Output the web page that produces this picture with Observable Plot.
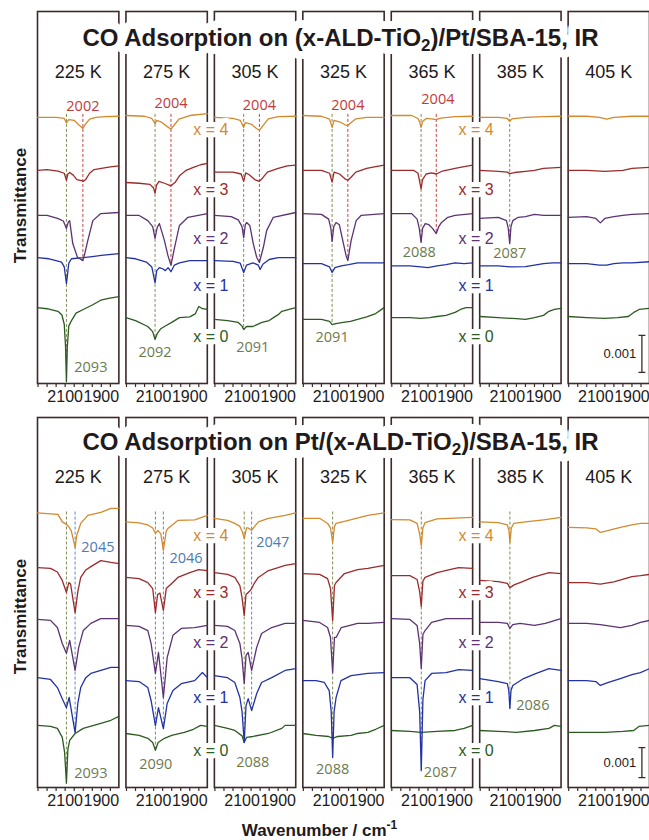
<!DOCTYPE html>
<html><head><meta charset="utf-8">
<script src="https://cdn.jsdelivr.net/npm/d3@7"></script>
<script src="https://cdn.jsdelivr.net/npm/@observablehq/plot@0.6"></script>
<style>
body{margin:0;background:#fff;width:649px;height:840px;overflow:hidden}
#chart svg{display:block}
</style></head><body><div id="chart"></div>
<script>
// ---------- data ----------
const temps = ["225 K","275 K","305 K","325 K","365 K","385 K","405 K"];
const loadingLabels = ["x = 0","x = 1","x = 2","x = 3","x = 4"];
const traceColors = ["#2d5a22","#2232a4","#5b3272","#9c2a2b","#d38a2d"];
const xTicks = [2250,2200,2150,2100,2050,2000,1950,1900,1850];
const xTickLabels = [2100,1900];
const topTitle = "CO Adsorption on (x-ALD-TiO₂)/Pt/SBA-15, IR";
const bottomTitle = "CO Adsorption on Pt/(x-ALD-TiO₂)/SBA-15, IR";
// vertical offsets of the stacked traces (x = 0..4), units of 1e-4 transmittance
const topOffsets = [20, 34, 45.4, 57.6, 71.9];
const bottomOffsets = [20.7, 37.3, 56, 73.3, 91.5];
const topLabelY = [12.6, 26.5, 39, 52.4, 68.5];
const bottomLabelY = [12.3, 30, 48.2, 65, 84];

// spectra: [wavenumber, ΔT (1e-4)] per loading x = 0..4
const top225 = [
 [[2253,0.5],[2200,0.2],[2140,-0.5],[2118,-1.5],[2105,-4],[2098,-10],[2093,-19.5],[2088,-10],[2080,-4.5],[2065,-3],[2040,-1],[2000,0],[1950,1.2],[1903,2.5],[1860,3],[1803,3.5]],
 [[2253,0],[2190,-0.3],[2150,-0.8],[2120,-1.2],[2105,-2.5],[2097,-5.5],[2093,-7],[2088,-5],[2080,-1.5],[2065,-0.3],[2000,0],[1950,0.3],[1900,0.6],[1803,1.1]],
 [[2253,0],[2200,0],[2142,-0.8],[2110,-1.5],[2093,-3.5],[2083,-1.8],[2075,-1.4],[2058,-7.6],[2032,-11.3],[2002,-12.2],[1990,-10],[1975,-6.8],[1947,-1.4],[1903,0.5],[1803,0.8]],
 [[2253,0],[2200,0.2],[2140,-0.2],[2105,-0.8],[2093,-2.7],[2085,-1],[2075,-0.6],[2055,-1.3],[2035,-2.5],[2010,-2.8],[2000,-3.0],[1985,-2.4],[1965,-0.8],[1940,0.2],[1900,0.5],[1850,0.9],[1803,1.2]],
 [[2253,0],[2150,0],[2105,-0.3],[2093,-1.5],[2080,-0.6],[2050,-0.8],[2025,-2],[2002,-3],[1990,-2],[1965,-0.5],[1930,0],[1880,0.2],[1803,0.3]]
];
const top275 = [
 [[2253,-2.2],[2200,-3],[2132,-4.6],[2105,-6],[2092,-8.1],[2080,-6.5],[2060,-5.2],[2040,-4.6],[2000,-3.5],[1957,-2.2],[1900,-2],[1870,-1.2],[1850,0.8],[1830,0.2],[1803,0]],
 [[2253,0],[2200,-0.3],[2140,-1.2],[2110,-2.5],[2092,-6.8],[2083,-3.5],[2068,-2.7],[2050,-3],[2035,-3.5],[2020,-2.7],[2004,-3.8],[1985,-2],[1957,-1.4],[1900,-0.8],[1803,-0.8]],
 [[2253,0],[2180,0],[2132,-1.4],[2105,-3],[2092,-6.2],[2080,-3.2],[2068,-2.2],[2040,-6.8],[2021,-10.8],[2004,-13.5],[1984,-8.6],[1957,-2.7],[1910,-0.5],[1803,0.5]],
 [[2253,-3.3],[2180,-3.5],[2120,-3.8],[2100,-4.8],[2092,-6.2],[2084,-4],[2070,-3],[2040,-3.5],[2004,-4.2],[1980,-3.2],[1955,-1.4],[1920,0],[1880,0.8],[1840,1.5],[1803,1.9]],
 [[2253,0.5],[2150,0.3],[2110,-0.3],[2092,-1.7],[2082,-0.8],[2060,-1.2],[2030,-2.3],[2004,-3.2],[1985,-2],[1960,-0.5],[1900,0.5],[1803,1]]
];
const top305 = [
 [[2253,-2.7],[2180,-3],[2121,-3.5],[2100,-4.5],[2091,-5.4],[2075,-4.6],[2040,-4.6],[1990,-3.5],[1950,-3],[1920,-2],[1900,-1.4],[1880,-0.5],[1840,0],[1803,0.5]],
 [[2253,-0.8],[2150,-1],[2110,-1.5],[2091,-4],[2075,-2],[2040,-1.4],[2010,-2],[2000,-3.2],[1985,-1.8],[1950,-0.5],[1900,0],[1803,0]],
 [[2253,0],[2160,-0.3],[2121,-1.2],[2100,-3],[2091,-6],[2082,-2.5],[2075,-1.9],[2057,-2.7],[2038,-7.6],[2019,-11.3],[2004,-12.7],[1982,-8.6],[1964,-4.1],[1927,-0.5],[1803,0.8]],
 [[2253,-0.5],[2150,-0.5],[2105,-1],[2091,-3],[2080,-0.7],[2060,-1.2],[2030,-2.5],[2004,-3],[1985,-2],[1960,-0.5],[1900,0.5],[1850,1.2],[1803,1.4]],
 [[2253,0],[2150,-0.3],[2110,-0.8],[2091,-2.7],[2082,-1.4],[2050,-1.8],[2020,-3],[2004,-3.5],[1985,-2.3],[1955,-0.4],[1900,0.2],[1803,0.3]]
];
const top325 = [
 [[2253,-2.7],[2150,-2.7],[2105,-3.2],[2091,-4.1],[2070,-3.8],[2030,-3.5],[1990,-3.2],[1950,-2.7],[1900,-2],[1850,-1.1],[1803,0.5]],
 [[2253,-1.6],[2150,-1.6],[2105,-2.5],[2091,-4],[2075,-2.7],[2040,-2.2],[2000,-1.9],[1950,-1.4],[1900,-1.4],[1803,-1.4]],
 [[2253,0.5],[2150,0.3],[2110,-1],[2098,-3.5],[2091,-7],[2082,-3],[2069,-1.9],[2051,-2.5],[2032,-6.8],[2014,-10.8],[2004,-12.2],[1986,-6.8],[1958,-1.4],[1931,0],[1803,0.5]],
 [[2253,0],[2150,0],[2105,-0.8],[2091,-3.2],[2080,-0.5],[2050,-1],[2020,-2.3],[2004,-2.7],[1985,-1.8],[1960,-0.5],[1900,0.5],[1850,1],[1803,1.4]],
 [[2253,0.5],[2150,0.3],[2105,-0.5],[2091,-2.7],[2080,-0.8],[2050,-1.2],[2020,-2],[2004,-2.2],[1985,-1.4],[1960,-0.4],[1900,0],[1803,0]]
];
const top365 = [
 [[2253,-2.2],[2150,-2.2],[2090,-2.4],[2040,-2.2],[2000,-1.9],[1950,-1.6],[1900,-0.8],[1870,0],[1840,0.5],[1803,0.5]],
 [[2253,-2.2],[2150,-2.2],[2090,-2.5],[2050,-2.7],[2000,-2.2],[1950,-1.9],[1900,-1.4],[1850,-1.6],[1803,-1.4]],
 [[2253,0.5],[2140,0.5],[2110,-1],[2098,-3.5],[2088,-7.3],[2080,-3.5],[2065,-2.2],[2045,-2.5],[2025,-3.5],[2004,-4.9],[1990,-3],[1975,-1.9],[1940,-0.5],[1900,0],[1803,0.5]],
 [[2253,0],[2130,0],[2105,-0.8],[2088,-5],[2080,-2.5],[2060,-1],[2030,-0.7],[2004,-1],[1970,-0.2],[1900,0.5],[1850,1],[1803,1.4]],
 [[2253,0.5],[2140,0.5],[2105,-0.3],[2095,-1.4],[2088,-2.7],[2080,-1.1],[2060,-0.3],[2030,-0.4],[2004,-0.6],[1980,-0.2],[1900,0.2],[1803,0.3]]
];
const top385 = [
 [[2253,-1.9],[2150,-2.2],[2050,-2.5],[2000,-2.7],[1950,-2.2],[1900,-1.6],[1870,-0.5],[1840,0],[1803,0.3]],
 [[2253,-2.2],[2150,-2.2],[2080,-2.5],[2000,-2.4],[1950,-2],[1900,-1.6],[1850,-1.4],[1803,-1.4]],
 [[2253,-0.8],[2150,-0.5],[2105,-1.4],[2095,-3.5],[2087,-7.6],[2080,-3],[2070,-1.4],[2040,-0.5],[2000,-0.3],[1950,0.3],[1900,0],[1803,0]],
 [[2253,0],[2150,-0.3],[2100,-0.5],[2087,-0.9],[2060,-0.6],[2000,-0.3],[1950,0],[1900,0.5],[1803,0.8]],
 [[2253,0],[2150,0],[2100,-0.3],[2087,-1.1],[2075,-0.4],[2000,0],[1900,0.2],[1803,0.3]]
];
const top405 = [
 [[2253,-1.9],[2150,-2.2],[2050,-2.4],[1980,-2.2],[1920,-1.9],[1890,-0.8],[1860,0],[1803,0.3]],
 [[2253,-1.6],[2150,-1.6],[2080,-2],[2040,-2],[2000,-1.6],[1950,-1.4],[1900,-1.4],[1803,-1.1]],
 [[2253,-0.5],[2150,-0.3],[2100,-0.8],[2075,-2],[2050,-0.8],[2000,-0.3],[1950,0],[1900,0.3],[1803,0.5]],
 [[2253,0],[2150,0],[2050,-0.3],[1950,0],[1900,0.5],[1803,0.8]],
 [[2253,0.3],[2150,0.3],[2080,0],[2040,-0.5],[2000,0],[1900,0.3],[1803,0.3]]
];

const bot225 = [
 [[2253,0],[2181,-0.3],[2143,-1],[2116,-4],[2103,-9],[2093,-19.3],[2085,-8],[2075,-5],[2045,-2.7],[2000,-1],[1903,0.7],[1847,1.7],[1803,3]],
 [[2253,-0.7],[2181,-1.3],[2143,-4],[2116,-7.7],[2093,-10.7],[2078,-7.3],[2045,-19],[2030,-9.3],[2014,-4],[1986,-0.7],[1958,0.7],[1903,1.7],[1847,2.7],[1803,2.7]],
 [[2253,0],[2181,-0.3],[2143,-2.7],[2116,-8],[2093,-11.3],[2075,-7],[2045,-17],[2025,-9.3],[2000,-3.7],[1958,-1.3],[1903,0.3],[1803,0.3]],
 [[2253,0],[2181,-0.3],[2143,-1.5],[2116,-4.3],[2093,-8.3],[2080,-5],[2070,-5.5],[2045,-15],[2030,-8],[2014,-3.3],[1986,-0.8],[1958,0.3],[1903,2.3],[1847,1.7],[1803,1.3]],
 [[2253,0],[2181,-0.3],[2140,-0.5],[2116,-3],[2093,-3.8],[2079,-4.7],[2066,-6],[2045,-11.5],[2036,-7.5],[2014,-3.5],[1975,-0.8],[1903,0.2],[1847,1.5],[1803,1.5]]
];
const bot275 = [
 [[2253,-2.7],[2180,-3.3],[2132,-4.3],[2105,-5.7],[2090,-8.3],[2075,-5.7],[2040,-4.3],[2000,-3.3],[1930,-2.3],[1880,-1.3],[1840,0],[1803,-0.3]],
 [[2253,-1.7],[2180,-2],[2132,-4],[2114,-8.3],[2090,-16.7],[2073,-10.7],[2046,-17.7],[2025,-9.3],[1993,-5],[1947,-2.7],[1873,-1.7],[1830,1],[1803,-0.7]],
 [[2253,-2],[2180,-2.3],[2132,-3.7],[2114,-8],[2090,-18],[2073,-11],[2046,-26],[2025,-12.7],[1993,-5.3],[1947,-3],[1873,-2.7],[1803,-2]],
 [[2253,-3.3],[2180,-3.7],[2132,-5],[2105,-7],[2090,-15],[2078,-9],[2065,-8.5],[2046,-14.3],[2030,-7],[2000,-5.3],[1966,-3.3],[1900,-1.7],[1850,-0.7],[1803,-1]],
 [[2253,-3],[2180,-3.3],[2132,-4],[2105,-5],[2090,-6.8],[2077,-5.8],[2060,-7],[2046,-12.5],[2030,-6],[2021,-5.2],[1966,-2.5],[1873,-2.3],[1803,-0.8]]
];
const bot305 = [
 [[2253,0],[2180,-1],[2140,-1.7],[2100,-3.5],[2088,-5.7],[2075,-4],[2040,-3.7],[1954,-2.7],[1880,-1],[1862,0],[1803,0]],
 [[2253,0],[2180,-0.7],[2140,-2.3],[2112,-7.3],[2100,-12],[2088,-22.3],[2078,-10],[2066,-7.7],[2047,-11.7],[2019,-6],[1992,-2.3],[1936,-0.7],[1862,1.7],[1803,2.3]],
 [[2253,-2],[2180,-2.3],[2140,-3.7],[2112,-8],[2100,-13],[2088,-21.3],[2078,-12],[2066,-11],[2047,-17],[2019,-9.3],[1992,-4.7],[1936,-2.7],[1862,-1.3],[1803,-1.3]],
 [[2253,-1.7],[2180,-2.3],[2140,-3.3],[2112,-6],[2100,-10],[2088,-16],[2078,-9],[2060,-8],[2047,-7],[2030,-5],[2010,-3.3],[1954,-1],[1900,0],[1862,0.7],[1803,1.3]],
 [[2253,-1.8],[2180,-2.5],[2140,-3.5],[2112,-4.5],[2100,-6],[2088,-8.5],[2075,-5],[2066,-5],[2047,-5.8],[2030,-4.5],[2010,-3],[1954,-1.8],[1862,-0.8],[1803,0]]
];
const bot325 = [
 [[2253,-2.7],[2180,-3.3],[2110,-3.7],[2088,-4.3],[2060,-3.7],[1986,-3.3],[1950,-2.7],[1893,-2.3],[1850,-1.3],[1803,0]],
 [[2253,-1.7],[2180,-1.7],[2134,-2.3],[2107,-5],[2096,-12],[2088,-27.3],[2080,-12],[2069,-7.3],[2042,-1.7],[1986,0],[1893,0.7],[1803,1]],
 [[2253,-0.3],[2160,-1],[2116,-2.7],[2100,-6],[2088,-17.7],[2078,-6],[2069,-6],[2040,-2.7],[1950,-1.3],[1893,-1.3],[1803,-1]],
 [[2253,-2],[2160,-2.3],[2116,-3.7],[2100,-7],[2088,-17.7],[2078,-6],[2069,-5],[2023,-2],[1950,-0.7],[1893,-0.3],[1803,0.7]],
 [[2253,-1.8],[2160,-1.8],[2116,-3.5],[2100,-5],[2088,-9.8],[2078,-4.5],[2069,-3.5],[2023,-2.8],[1893,-0.8],[1803,0]]
];
const bot365 = [
 [[2253,-1.7],[2150,-2],[2087,-2.3],[2000,-2],[1900,-1.7],[1850,-1],[1803,0]],
 [[2253,-0.7],[2150,-0.7],[2110,-3],[2096,-12],[2087,-31.7],[2078,-8],[2066,-1.7],[2030,0.7],[1950,1],[1880,2],[1803,1.7]],
 [[2253,0.3],[2150,0],[2110,-2],[2096,-8],[2087,-16.3],[2078,-5],[2066,-3.7],[2030,-1],[1950,0.3],[1803,0.3]],
 [[2253,-2.7],[2150,-2.7],[2110,-4],[2096,-8],[2087,-13],[2078,-4.5],[2066,-3.3],[2000,-1.7],[1930,-0.7],[1880,0],[1803,-0.3]],
 [[2253,-2.2],[2150,-2.3],[2110,-3.5],[2096,-7],[2087,-11],[2078,-5],[2066,-3.2],[2000,-2],[1900,-1.7],[1803,-1.5]]
];
const bot385 = [
 [[2253,-1.7],[2150,-2],[2050,-2.3],[1950,-1.7],[1870,-1],[1840,0],[1803,-0.3]],
 [[2253,-1],[2150,-2],[2100,-2.7],[2092,-5],[2086,-11],[2080,-5],[2070,-3.3],[2010,-1],[1940,0.7],[1870,2.3],[1803,1.7]],
 [[2253,-1],[2150,-1],[2100,-1.3],[2086,-3],[2070,-1.7],[2030,-1.3],[1950,-2],[1890,-1.3],[1803,0.3]],
 [[2253,-4.3],[2150,-4.7],[2100,-5.3],[2086,-6.7],[2060,-5.7],[2030,-5],[1960,-3.3],[1870,-1.7],[1803,-2]],
 [[2253,-3],[2150,-3.2],[2100,-4],[2091,-6],[2086,-9.8],[2078,-5],[2065,-3.5],[2000,-3],[1900,-2.3],[1803,-1.5]]
];
const bot405 = [
 [[2253,-2.3],[2150,-2.3],[2050,-2.3],[1950,-2],[1890,-1.7],[1860,-0.3],[1803,0]],
 [[2253,-1.7],[2150,-1.7],[2100,-2],[2075,-3.3],[2030,-2.3],[1964,-1],[1900,0.3],[1853,1],[1803,2.3]],
 [[2253,-1.3],[2150,-1.3],[2075,-1.7],[1964,-2.7],[1900,-2],[1853,-1],[1803,-0.3]],
 [[2253,-5],[2150,-5],[2075,-5.5],[2000,-4.8],[1900,-3],[1853,-2.7],[1803,-2.3]],
 [[2253,-4.8],[2150,-5],[2100,-5.3],[2075,-6.5],[2040,-6],[1964,-4.8],[1900,-4],[1853,-3.5],[1803,-3.5]]
];

// peak annotations: dashed line at wn, down to the trace x = to; label at (lwn, ly)
const topPeaks = [
 {T:"225 K", wn:2093, c:"green", to:0, label:"2093", lwn:1958, ly:4.3},
 {T:"225 K", wn:2002, c:"red",   to:2, label:"2002", lwn:2002, ly:74.9},
 {T:"275 K", wn:2092, c:"green", to:0, label:"2092", lwn:2092, ly:8.4},
 {T:"275 K", wn:2004, c:"red",   to:2, label:"2004", lwn:2004, ly:75.7},
 {T:"305 K", wn:2091, c:"green", to:0, label:"2091", lwn:2041, ly:9.7},
 {T:"305 K", wn:2004, c:"red",   to:2, label:"2004", lwn:2004, ly:75.1},
 {T:"325 K", wn:2091, c:"green", to:0, label:"2091", lwn:2091, ly:12.4},
 {T:"325 K", wn:2004, c:"red",   to:2, label:"2004", lwn:2004, ly:75.1},
 {T:"365 K", wn:2088, c:"green", to:2, label:"2088", lwn:2098, ly:35.4},
 {T:"365 K", wn:2004, c:"red",   to:2, label:"2004", lwn:1995, ly:76.8},
 {T:"385 K", wn:2087, c:"green", to:2, label:"2087", lwn:2087, ly:35.1}
];
const bottomPeaks = [
 {T:"225 K", wn:2093, c:"green", to:0, label:"2093", lwn:1958, ly:4.7},
 {T:"225 K", wn:2045, c:"blue",  to:1, label:"2045", lwn:1919, ly:80},
 {T:"275 K", wn:2090, c:"green", to:0, label:"2090", lwn:2088, ly:7.7},
 {T:"275 K", wn:2046, c:"blue",  to:1, label:"2046", lwn:1921, ly:76.3},
 {T:"305 K", wn:2088, c:"green", to:0, label:"2088", lwn:2041, ly:8.3},
 {T:"305 K", wn:2047, c:"blue",  to:1, label:"2047", lwn:1930, ly:81.7},
 {T:"325 K", wn:2088, c:"green", to:1, label:"2088", lwn:2088, ly:6},
 {T:"365 K", wn:2087, c:"green", to:1, label:"2087", lwn:1981, ly:5},
 {T:"385 K", wn:2086, c:"green", to:1, label:"2086", lwn:1959, ly:27.3}
];

// ---------- styling ----------
const FONT = "'Liberation Sans', Arial, Helvetica, sans-serif";
const LABELFONT = "'Open Sans', 'Noto Sans', sans-serif";
const INK = "#221a1a";
const FRAME = "#3d2a2a";
const peakLine = {green:"#7d8d52", red:"#cc3f3f", blue:"#5d88bd"};
const peakText = {green:"#6e7b4c", red:"#c23a3a", blue:"#4d7ab3"};

function interp(pts, wn) {
  for (let i = 1; i < pts.length; i++) {
    const [w0, v0] = pts[i-1], [w1, v1] = pts[i];
    if (wn <= w0 && wn >= w1) return v0 + (v1 - v0) * (wn - w0) / (w1 - w0);
  }
  return 0;
}

function drawPanel(cfg) {
  const rows = [];
  for (const T of temps) cfg.spectra[T].forEach((pts, k) =>
    pts.forEach(([wn, d]) => rows.push({T, key: T + k, wn, y: cfg.offsets[k] + d, color: traceColors[k]})));
  const peaks = cfg.peaks.map(p => ({...p,
    y1: cfg.offsets[4] + cfg.ruleTop,
    y2: cfg.offsets[p.to] + interp(cfg.spectra[p.T][p.to], p.wn)}));
  const labelRows = [];
  for (const T of ["275 K","365 K"]) loadingLabels.forEach((t, k) =>
    labelRows.push({T, t, y: cfg.labelY[k], color: traceColors[k]}));
  const bar = [{T:"405 K"}];
  const caps = [{T:"405 K", y: cfg.bar[0]}, {T:"405 K", y: cfg.bar[1]}];
  const titleRow = [{T:"325 K"}];
  const titleOpts = {fx: "T", text: () => cfg.title, frameAnchor: "top", lineAnchor: "middle", textAnchor: "middle",
      dy: cfg.titleDy, dx: -3, fontWeight: "bold", fontSize: 24};
  const marks = [
    Plot.frame({stroke: FRAME, strokeWidth: 1.6}),
    Plot.axisX({ticks: xTicks, tickSize: 4, tickFormat: () => "", label: null, stroke: FRAME, strokeWidth: 1.2}),
    Plot.axisX({ticks: xTickLabels, tickSize: 0, tickPadding: 7, label: null, fontSize: 16, fill: INK, tickFormat: d => String(d)}),
    Plot.ruleX(peaks, {fx: "T", x: "wn", y1: "y1", y2: "y2", stroke: d => peakLine[d.c], strokeWidth: 1, strokeDasharray: "3,2"}),
    Plot.line(rows, {fx: "T", x: "wn", y: "y", z: "key", stroke: "color", strokeWidth: 1.3}),
    Plot.ruleX(bar, {fx: "T", x: () => 1845, y1: () => cfg.bar[0], y2: () => cfg.bar[1], stroke: FRAME, strokeWidth: 1.3}),
    Plot.link(caps, {fx: "T", x1: () => 1864, x2: () => 1826, y1: "y", y2: "y", stroke: FRAME, strokeWidth: 1.3}),
    Plot.text(bar, {fx: "T", x: () => 1967, y: () => (cfg.bar[0] + cfg.bar[1]) / 2, text: () => "0.001", fontSize: 13, fill: INK}),
    Plot.text(temps, {fx: d => d, text: d => d, frameAnchor: "top", lineAnchor: "middle", dy: cfg.tempDy, fontSize: 18, fill: INK}),
    Plot.text(peaks, {fx: "T", x: "lwn", y: "ly", text: "label", fill: d => peakText[d.c], fontSize: 14.5, fontFamily: LABELFONT}),
    Plot.text(labelRows, {fx: "T", y: "y", text: "t", frameAnchor: "right", textAnchor: "middle", dx: 3.5, fill: "color", fontSize: 16,
      stroke: "white", strokeWidth: 10, strokeLinejoin: "round", paintOrder: "stroke"}),
    Plot.text([{T:"225 K"}], {fx: "T", text: () => "Transmittance", frameAnchor: "left", textAnchor: "middle", rotate: -90,
      dx: -17, dy: cfg.yLabelDy, fontWeight: "bold", fontSize: 17, fill: INK}),
    // white knock-out behind the title, then the title itself
    Plot.text(titleRow, {...titleOpts, fill: "white", stroke: "white", strokeWidth: 16, strokeLinejoin: "round"}),
    Plot.text(titleRow, {...titleOpts, fill: INK})
  ];
  if (cfg.xlabel) marks.push(Plot.text([{T:"325 K"}], {fx: "T", text: () => cfg.xlabel, frameAnchor: "bottom", lineAnchor: "middle",
      textAnchor: "middle", dy: cfg.xlabelDy, dx: -24, fontWeight: "bold", fontSize: 17, fill: INK}));
  return Plot.plot({
    width: 649, height: cfg.height,
    marginLeft: 37, marginRight: 0, marginTop: cfg.marginTop, marginBottom: cfg.marginBottom,
    style: {fontFamily: FONT, background: "white", overflow: "visible"},
    fx: {domain: temps, paddingInner: 0.08, paddingOuter: 0, round: false, axis: null, label: null},
    x: {domain: [2253, 1803], axis: null},
    y: {domain: [0, cfg.yMax], axis: null},
    marks
  });
}

function fixScripts(svg) {
  const ns = "http://www.w3.org/2000/svg";
  svg.querySelectorAll("text").forEach(t => {
    const s = t.textContent;
    if (s.includes("TiO₂")) {
      const [a, b] = s.split("TiO₂");
      t.textContent = a + "TiO";
      const sub = document.createElementNS(ns, "tspan");
      sub.setAttribute("font-size", "17"); sub.setAttribute("dy", "5"); sub.textContent = "2";
      const rest = document.createElementNS(ns, "tspan");
      rest.setAttribute("dy", "-5"); rest.textContent = b;
      t.append(sub, rest);
    } else if (s.includes("cm⁻¹")) {
      t.textContent = s.replace("cm⁻¹", "cm");
      const sup = document.createElementNS(ns, "tspan");
      sup.setAttribute("font-size", "12"); sup.setAttribute("dy", "-7"); sup.textContent = "-1";
      t.append(sup);
    }
  });
  return svg;
}

const chart = document.getElementById("chart");
chart.append(fixScripts(drawPanel({
  title: topTitle,
  spectra: {"225 K": top225, "275 K": top275, "305 K": top305, "325 K": top325, "365 K": top365, "385 K": top385, "405 K": top405},
  offsets: topOffsets, labelY: topLabelY, peaks: topPeaks, ruleTop: 0.8,
  height: 408, marginTop: 11, marginBottom: 25, yMax: 100.5,
  titleDy: 26.5, tempDy: 61, yLabelDy: 8, bar: [3, 13]
})));
chart.append(fixScripts(drawPanel({
  title: bottomTitle,
  spectra: {"225 K": bot225, "275 K": bot275, "305 K": bot305, "325 K": bot325, "365 K": bot365, "385 K": bot385, "405 K": bot405},
  offsets: bottomOffsets, labelY: bottomLabelY, peaks: bottomPeaks, ruleTop: 0.3,
  height: 432, marginTop: 9, marginBottom: 53, yMax: 123.3,
  titleDy: 25, tempDy: 60, yLabelDy: 14, bar: [3.3, 13.3],
  xlabel: "Wavenumber / cm⁻¹", xlabelDy: 43
})));
</script>
</body></html>
